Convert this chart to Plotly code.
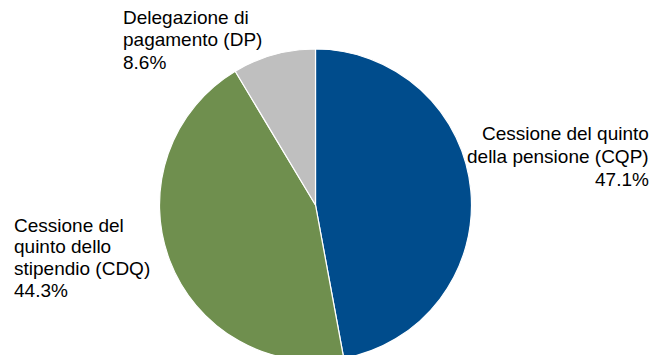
import plotly.graph_objects as go

# Distribution of salary/pension-backed loans by product (shares, %)
labels = [
    "Cessione del quinto\ndella pensione (CQP)",
    "Cessione del\nquinto dello\nstipendio (CDQ)",
    "Delegazione di\npagamento (DP)",
]
shares = [47.1, 44.3, 8.6]
colors = ["#004C8C", "#6F8F4E", "#BFBFBF"]

W, H = 654, 362
cx, cy, r = 315.5, 205.0, 156.0

fig = go.Figure(
    go.Pie(
        labels=[l.replace("\n", " ") for l in labels],
        values=shares,
        sort=False,
        direction="clockwise",
        rotation=0,
        marker=dict(colors=colors, line=dict(color="white", width=1.2)),
        textinfo="none",
        hoverinfo="label+percent",
        showlegend=False,
        domain=dict(
            x=[(cx - r) / W, (cx + r) / W],
            y=[1 - (cy + r) / H, 1 - (cy - r) / H],
        ),
    )
)

# label block placement: (x px, anchor, first-line centre y px, line pitch px)
placement = [
    (651, "right", 133.5, 23.0),
    (12, "left", 225.0, 21.7),
    (121, "left", 17.5, 22.5),
]

font = dict(family="Liberation Sans, Arial, sans-serif", size=19, color="#000000")
annotations = []
for label, value, (px, anchor, y0, pitch) in zip(labels, shares, placement):
    lines = label.split("\n") + [f"{value:.1f}%"]
    for i, line in enumerate(lines):
        annotations.append(
            dict(
                text=line,
                x=px / W,
                y=1 - (y0 + i * pitch) / H,
                xref="paper",
                yref="paper",
                xanchor=anchor,
                yanchor="middle",
                align=anchor,
                showarrow=False,
                font=font,
            )
        )

fig.update_layout(
    width=W,
    height=H,
    margin=dict(l=0, r=0, t=0, b=0),
    paper_bgcolor="white",
    plot_bgcolor="white",
    annotations=annotations,
)

fig.write_html(
    "out.html",
    post_script="document.documentElement.style.overflow='hidden';document.body.style.overflow='hidden';",
)
